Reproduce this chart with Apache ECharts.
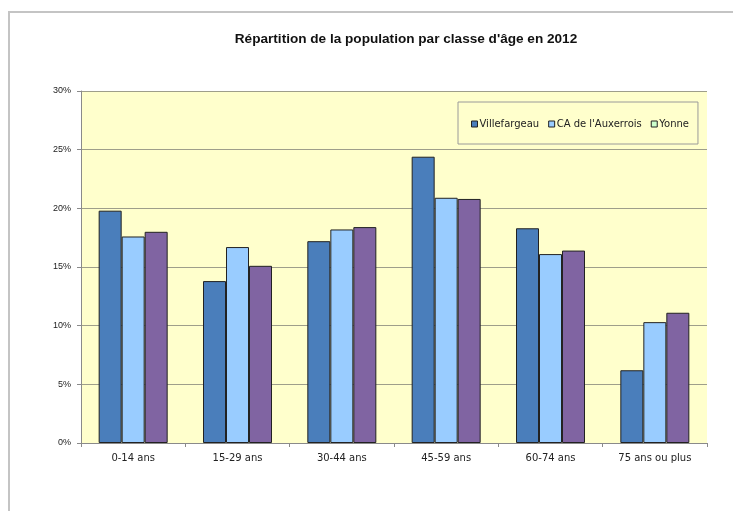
<!DOCTYPE html>
<html>
<head>
<meta charset="utf-8">
<script src="https://cdn.jsdelivr.net/npm/echarts@6/dist/echarts.min.js"></script>
<style>
html,body{margin:0;padding:0;background:#fff;}
#chart{width:733px;height:511px;}
</style>
</head>
<body>
<div id="chart"></div>
<script>
// classes d'age
var categories = ['0-14 ans', '15-29 ans', '30-44 ans', '45-59 ans', '60-74 ans', '75 ans ou plus'];
// parts en %
var villefargeau = [19.8, 13.8, 17.2, 24.4, 18.3, 6.2];
var auxerrois = [17.6, 16.7, 18.2, 20.9, 16.1, 10.3];
var yonne = [18.0, 15.1, 18.4, 20.8, 16.4, 11.1];
var yTicks = [0, 5, 10, 15, 20, 25, 30];

var chart = echarts.init(document.getElementById('chart'));
var lblFont = 'DejaVu Sans';

function barSerie(name, data, color) {
    return {
        name: name,
        type: 'bar',
        data: data,
        barWidth: 23,
        barGap: '0%',
        itemStyle: {color: color, borderColor: '#222', borderWidth: 1},
        emphasis: {disabled: true}
    };
}

chart.setOption({
    animation: false,
    backgroundColor: '#fff',
    graphic: [{
        type: 'rect',
        shape: {x: 9, y: 12, width: 740, height: 520},
        style: {fill: 'none', stroke: '#c4c4c4', lineWidth: 2},
        silent: true
    }],
    title: {
        text: "Répartition de la population par classe d'âge en 2012",
        left: 401, top: 27, textAlign: 'center',
        textStyle: {fontFamily: 'Liberation Sans', fontSize: 13.6, fontWeight: 'bold', color: '#111'}
    },
    legend: {
        left: 458, top: 102,
        padding: [17, 9, 15, 13],
        backgroundColor: '#ffffcc',
        borderColor: '#9a9a9a', borderWidth: 1,
        itemWidth: 6, itemHeight: 6, itemGap: 9,
        icon: 'rect',
        textStyle: {fontFamily: lblFont, fontSize: 10, color: '#222', padding: [0, 0, 0, -3]},
        data: [
            {name: 'Villefargeau', itemStyle: {color: '#4a7ebb', borderColor: '#222', borderWidth: 1}},
            {name: "CA de l'Auxerrois", itemStyle: {color: '#99ccff', borderColor: '#222', borderWidth: 1}},
            {name: 'Yonne', itemStyle: {color: '#ccffcc', borderColor: '#222', borderWidth: 1}}
        ]
    },
    grid: {
        left: 81, top: 91, width: 626, height: 352,
        show: true, backgroundColor: '#ffffcc', borderWidth: 0
    },
    xAxis: {
        type: 'category',
        data: categories,
        axisLine: {lineStyle: {color: '#8a8a8a', width: 1}},
        axisTick: {show: true, length: 4, lineStyle: {color: '#8a8a8a'}},
        axisLabel: {fontFamily: lblFont, fontSize: 10, color: '#222', margin: 10}
    },
    yAxis: {
        type: 'value',
        min: yTicks[0], max: yTicks[yTicks.length - 1], interval: 5,
        axisLine: {show: true, lineStyle: {color: '#8a8a8a', width: 1}},
        axisTick: {show: true, length: 4, lineStyle: {color: '#8a8a8a'}},
        axisLabel: {fontFamily: 'Liberation Sans', fontSize: 9, color: '#222', margin: 10, formatter: '{value}%'},
        splitLine: {lineStyle: {color: '#9e9e8a', width: 1}}
    },
    series: [
        barSerie('Villefargeau', villefargeau, '#4a7ebb'),
        barSerie("CA de l'Auxerrois", auxerrois, '#99ccff'),
        barSerie('Yonne', yonne, '#8064a2')
    ]
});
</script>
</body>
</html>
